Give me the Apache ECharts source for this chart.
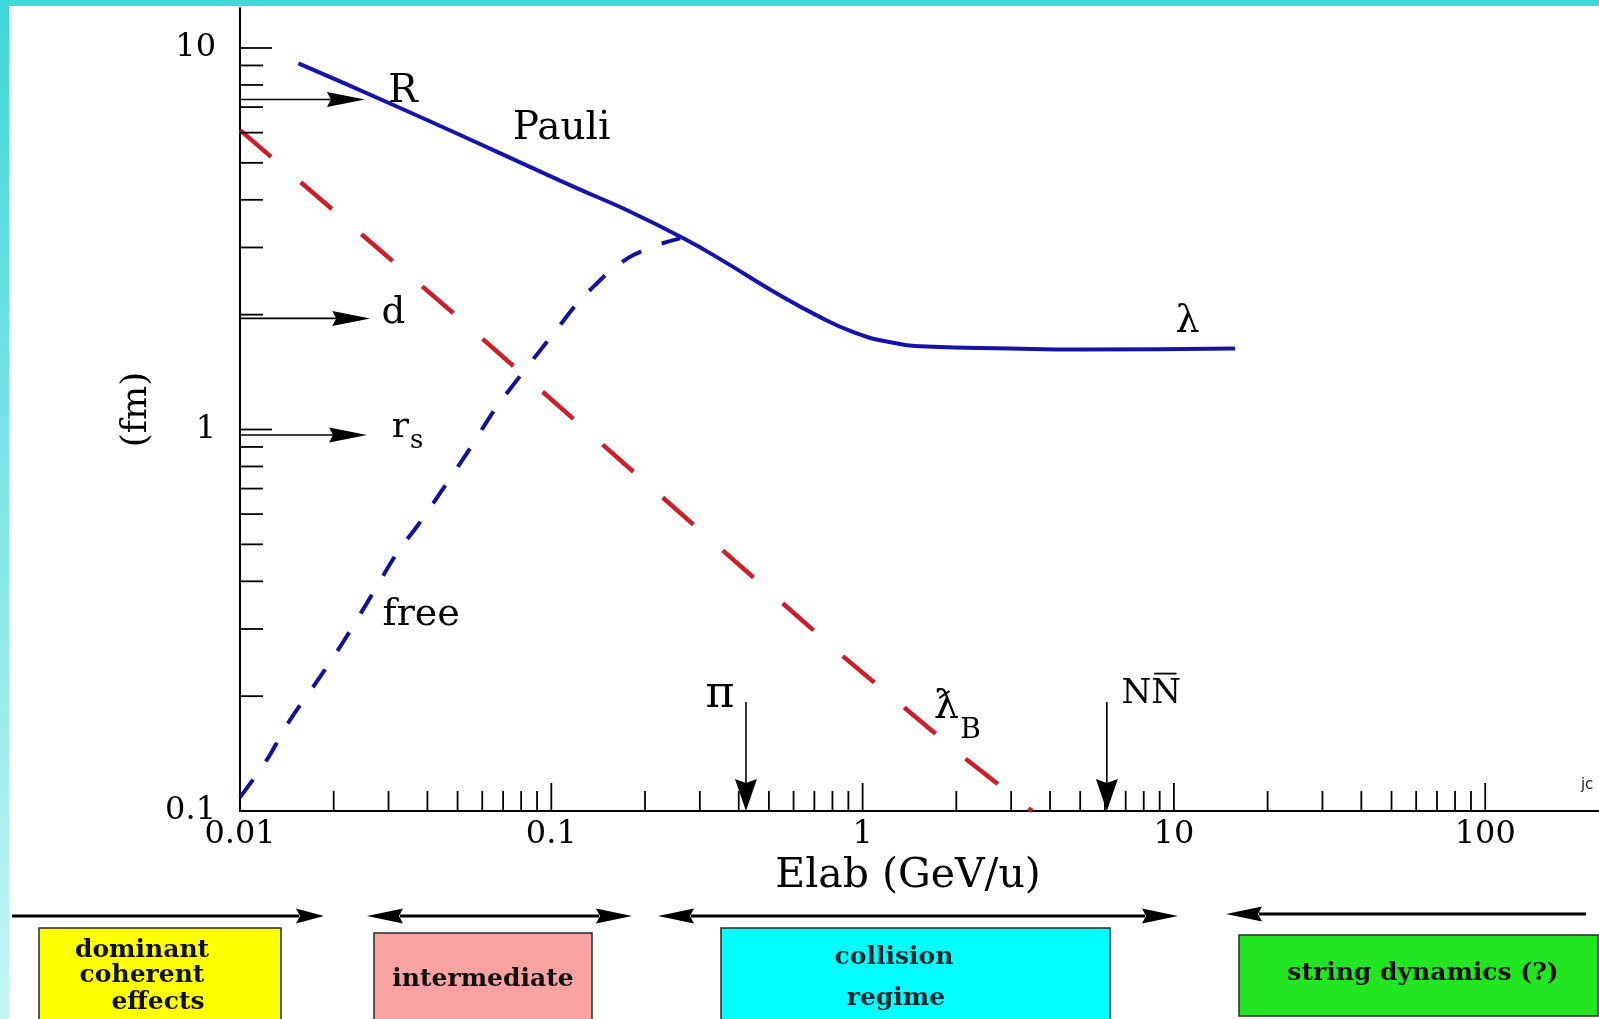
<!DOCTYPE html>
<html>
<head>
<meta charset="utf-8">
<title>Length scales vs. beam energy</title>
<script src="https://cdn.jsdelivr.net/npm/echarts@6/dist/echarts.min.js"></script>
<style>
  html, body { margin: 0; padding: 0; background: #ffffff; }
  #chart { width: 1599px; height: 1019px; }
</style>
</head>
<body>
<div id="chart"></div>
<script>
// ---- Axis ticks (log scales: energy in GeV/u, length in fm) ----
const xTickValues = [0.01, 0.1, 1, 10, 100];
const xTickLabels = ['0.01', '0.1', '1', '10', '100'];
const xMinorTicks = [0.02, 0.03, 0.04, 0.05, 0.06, 0.07, 0.08, 0.09,
                     0.2, 0.3, 0.4, 0.5, 0.6, 0.7, 0.8, 0.9,
                     2, 3, 4, 5, 6, 7, 8, 9,
                     20, 30, 40, 50, 60, 70, 80, 90];
const yTickValues = [0.1, 1, 10];
const yTickLabels = ['0.1', '1', '10'];
const yMinorTicks = [0.2, 0.3, 0.4, 0.5, 0.6, 0.7, 0.8, 0.9,
                     2, 3, 4, 5, 6, 7, 8, 9];

// ---- Mean free path, Pauli blocked (solid) ----
const pauliE = [0.0154, 0.0311, 0.0651, 0.1177, 0.1747, 0.2657, 0.3663, 0.5169,
                0.7303, 0.9343, 1.196, 1.608, 2.978, 4.998, 15.73];
const pauliL = [9.11, 7.09, 5.40, 4.33, 3.76, 3.17, 2.73, 2.30,
                1.97, 1.80, 1.70, 1.65, 1.63, 1.62, 1.63];

// ---- Free mean free path (dashed blue) ----
const freeE = [0.01, 0.01218, 0.01447, 0.01764, 0.02147, 0.02554, 0.03188, 0.03695,
               0.04498, 0.05483, 0.06678, 0.1067, 0.1222, 0.1382, 0.1582, 0.1835,
               0.2183, 0.2593];
const freeL = [0.1086, 0.1359, 0.1731, 0.2182, 0.2777, 0.3501, 0.4735, 0.5559,
               0.7008, 0.892, 1.147, 1.878, 2.161, 2.390, 2.645, 2.865,
               3.044, 3.169];

// ---- de Broglie wavelength (dashed red) ----
const broglieE = [0.01, 0.0484, 0.857, 2.135, 3.50];
const broglieL = [6.09, 2.02, 0.256, 0.1373, 0.1];

// ---- Reference lengths pointed at on the fm axis ----
const lengthNames = ['R', 'd', 'rs'];
const lengthValues = [7.33, 1.955, 0.967];
const lengthArrowTipE = [0.0252, 0.0262, 0.0256];

// ---- Production thresholds pointed at on the energy axis ----
const thresholdNames = ['π', 'NN̄'];
const thresholdE = [0.422, 6.09];
const thresholdArrowTopL = [0.193, 0.193];

// ---- Curve and marker labels ----
const noteText = ['R', 'Pauli', 'd', 'free', 'λ', 'π'];
const noteE = [0.0334, 0.1079, 0.0311, 0.0382, 11.07, 0.348];
const noteL = [7.80, 6.24, 2.056, 0.332, 1.947, 0.205];
// labels with a subscript: [main, subscript], anchored where the two meet
const subNoteMain = ['r', 'ƛ'];
const subNoteSub = ['s', 'B'];
const subNoteE = [0.0349, 2.042];
const subNoteL = [1.030, 0.1896];
// N N-bar threshold label (second N carries an overbar)
const barNoteText = ['NN'];
const barNoteE = [8.45];
const barNoteL = [0.2056];
// small tag at the right edge
const tagText = ['jc'];
const tagE = [203];
const tagL = [0.117];

// ---- Energy regimes below the axis ----
const regimeLines = [['dominant', 'coherent', 'effects'], ['intermediate'],
                     ['collision', 'regime'], ['string dynamics (?)']];

// ---------------------------------------------------------------
const X_MIN = 0.01, X_MAX = 232, Y_MIN = 0.1, Y_MAX = 12.73;
const SERIF = '"DejaVu Serif", "Liberation Serif", serif';
const MID_SHIFT = 3;   // canvas 'middle' sits a little above the glyph centre

function tickLabel(values, labels) {
  return function (v) {
    for (let i = 0; i < values.length; i++) {
      if (Math.abs(v / values[i] - 1) < 1e-6) return labels[i];
    }
    return '';
  };
}

function pairs(a, b) { return a.map((v, i) => [v, b[i]]); }

// short tick strokes drawn inward from an axis
function tickSeries(values, onXAxis, len) {
  return {
    type: 'custom',
    coordinateSystem: 'cartesian2d',
    silent: true,
    clip: false,
    z: 4,
    encode: { x: 0, y: 1 },
    data: values.map(v => onXAxis ? [v, Y_MIN] : [X_MIN, v]),
    renderItem: function (params, api) {
      const p = api.coord([api.value(0), api.value(1)]);
      const shape = onXAxis
        ? { x1: p[0], y1: p[1], x2: p[0], y2: p[1] - len }
        : { x1: p[0], y1: p[1], x2: p[0] + len, y2: p[1] };
      return { type: 'line', shape: shape, style: { stroke: '#000', lineWidth: 1.8 } };
    }
  };
}

const arrowData = lengthValues.map((v, i) => [X_MIN, v, lengthArrowTipE[i], v])
  .concat(thresholdE.map((e, i) => [e, thresholdArrowTopL[i], e, Y_MIN]));

function arrowItem(params, api) {
  const a = api.coord([api.value(0), api.value(1)]);
  const b = api.coord([api.value(2), api.value(3)]);
  const dx = b[0] - a[0], dy = b[1] - a[1];
  const L = Math.sqrt(dx * dx + dy * dy);
  const ux = dx / L, uy = dy / L, nx = -uy, ny = ux;
  const vertical = Math.abs(uy) > Math.abs(ux);
  const headLen = vertical ? 32 : 38;
  const half = vertical ? 11 : 7.5;
  const notch = 4;
  const bx = b[0] - ux * headLen, by = b[1] - uy * headLen;
  return {
    type: 'group',
    children: [
      { type: 'line', shape: { x1: a[0], y1: a[1], x2: bx + ux * notch, y2: by + uy * notch },
        style: { stroke: '#000', lineWidth: 1.6 } },
      { type: 'polygon',
        shape: { points: [[b[0], b[1]], [bx + nx * half, by + ny * half],
                          [bx + ux * notch, by + uy * notch], [bx - nx * half, by - ny * half]] },
        style: { fill: '#000' } }
    ]
  };
}

const noteSize = { 'Pauli': 39, 'R': 39, 'd': 37, 'free': 38, 'λ': 38, 'π': 44 };

function noteItem(params, api) {
  const p = api.coord([api.value(0), api.value(1)]);
  const t = noteText[params.dataIndex];
  return {
    type: 'text', x: p[0], y: p[1] + MID_SHIFT,
    style: { text: t, fill: '#000', fontFamily: SERIF, fontSize: noteSize[t] || 38,
             align: 'center', verticalAlign: 'middle' }
  };
}

function subNoteItem(params, api) {
  const p = api.coord([api.value(0), api.value(1)]);
  const i = params.dataIndex;
  const big = i === 0 ? 36 : 40;
  const small = i === 0 ? 26 : 28;
  const drop = i === 0 ? 13.5 : 23;
  return {
    type: 'group',
    children: [
      { type: 'text', x: p[0], y: p[1] + MID_SHIFT,
        style: { text: subNoteMain[i], fill: '#000', fontFamily: SERIF, fontSize: big,
                 align: 'right', verticalAlign: 'middle' } },
      { type: 'text', x: p[0] + 1, y: p[1] + drop + MID_SHIFT,
        style: { text: subNoteSub[i], fill: '#000', fontFamily: SERIF, fontSize: small,
                 align: 'left', verticalAlign: 'middle' } }
    ]
  };
}

function barNoteItem(params, api) {
  const p = api.coord([api.value(0), api.value(1)]);
  const size = 34, nWidth = 0.838 * size;
  const cy = p[1] + MID_SHIFT;
  return {
    type: 'group',
    children: [
      { type: 'text', x: p[0], y: cy,
        style: { text: barNoteText[params.dataIndex], fill: '#000', fontFamily: SERIF, fontSize: size,
                 align: 'center', verticalAlign: 'middle' } },
      { type: 'line', shape: { x1: p[0] + 3, y1: cy - 21, x2: p[0] + nWidth - 3, y2: cy - 21 },
        style: { stroke: '#000', lineWidth: 1.8 } }
    ]
  };
}

function tagItem(params, api) {
  const p = api.coord([api.value(0), api.value(1)]);
  return {
    type: 'text', x: p[0], y: p[1],
    style: { text: tagText[params.dataIndex], fill: '#222', fontFamily: '"DejaVu Sans", sans-serif',
             fontSize: 15, align: 'left', verticalAlign: 'middle' }
  };
}

// ---- frame and regime strip under the plot ----
function hArrow(x1, x2, y, leftHead, rightHead, headLen) {
  const half = 7.5, out = [];
  const s = leftHead ? x1 + headLen - 3 : x1;
  const e = rightHead ? x2 - headLen + 3 : x2;
  out.push({ type: 'line', shape: { x1: s, y1: y, x2: e, y2: y },
             style: { stroke: '#000', lineWidth: 3 }, silent: true });
  if (leftHead) out.push({ type: 'polygon', silent: true,
    shape: { points: [[x1, y], [x1 + headLen, y - half], [x1 + headLen - 4, y], [x1 + headLen, y + half]] },
    style: { fill: '#000' } });
  if (rightHead) out.push({ type: 'polygon', silent: true,
    shape: { points: [[x2, y], [x2 - headLen, y - half], [x2 - headLen + 4, y], [x2 - headLen, y + half]] },
    style: { fill: '#000' } });
  return out;
}

function box(x, y, w, h, fill) {
  return { type: 'rect', silent: true, shape: { x: x, y: y, width: w, height: h },
           style: { fill: fill, stroke: '#2a2a2a', lineWidth: 1.5 } };
}

function boxText(str, x, y, color) {
  return { type: 'text', silent: true, x: x, y: y, z: 10,
           style: { text: str, fill: color || '#111', fontFamily: SERIF, fontWeight: 'bold',
                    fontSize: 25, align: 'center', verticalAlign: 'middle' } };
}

const graphics = [
  { type: 'rect', silent: true, shape: { x: 0, y: 0, width: 9, height: 1019 },
    style: { fill: new echarts.graphic.LinearGradient(0, 0, 0, 1,
      [{ offset: 0, color: '#3fd7d6' }, { offset: 1, color: '#c6f4f4' }]) } },
  { type: 'rect', silent: true, shape: { x: 0, y: 0, width: 1599, height: 6 },
    style: { fill: '#41d8d6' } },
  box(39, 928, 242, 100, '#ffff00'),
  box(374, 933, 218, 100, '#f8a2a2'),
  box(721, 928, 389, 100, '#00ffff'),
  box(1239, 935, 359, 81, '#22e622'),
  boxText(regimeLines[0][0], 142, 950),
  boxText(regimeLines[0][1], 142, 975),
  boxText(regimeLines[0][2], 158, 1002),
  boxText(regimeLines[1][0], 483, 979),
  boxText(regimeLines[2][0], 894, 957, '#0d2a33'),
  boxText(regimeLines[2][1], 896, 998, '#0d2a33'),
  boxText(regimeLines[3][0], 1423, 973)
].concat(
  hArrow(12, 324, 916, false, true, 28),
  hArrow(367, 632, 916, true, true, 36),
  hArrow(658, 1178, 916, true, true, 36),
  hArrow(1226, 1586, 914, true, false, 36)
);

const chart = echarts.init(document.getElementById('chart'), null, { renderer: 'canvas' });

chart.setOption({
  animation: false,
  backgroundColor: '#ffffff',
  grid: { left: 240, right: 0, top: 8, bottom: 208, containLabel: false, outerBoundsMode: 'none' },
  xAxis: {
    type: 'log', logBase: 10, min: X_MIN, max: X_MAX,
    axisLine: { show: true, onZero: false, lineStyle: { color: '#000', width: 2 } },
    axisTick: { show: false },
    splitLine: { show: false },
    axisLabel: { show: true, color: '#000', fontFamily: SERIF, fontSize: 32, margin: 8,
                 showMaxLabel: false, formatter: tickLabel(xTickValues, xTickLabels) },
    name: 'Elab (GeV/u)', nameLocation: 'middle', nameGap: 22,
    nameTextStyle: { color: '#000', fontFamily: SERIF, fontSize: 41, padding: [0, 23, 0, 0] }
  },
  yAxis: {
    type: 'log', logBase: 10, min: Y_MIN, max: Y_MAX,
    axisLine: { show: true, onZero: false, lineStyle: { color: '#000', width: 2 } },
    axisTick: { show: false },
    splitLine: { show: false },
    axisLabel: { show: true, color: '#000', fontFamily: SERIF, fontSize: 32, margin: 24,
                 showMaxLabel: false, formatter: tickLabel(yTickValues, yTickLabels) },
    name: '(fm)', nameLocation: 'middle', nameGap: 80, nameRotate: 90,
    nameTextStyle: { color: '#000', fontFamily: SERIF, fontSize: 36 }
  },
  graphic: graphics,
  series: [
    { name: 'Pauli', type: 'line', data: pairs(pauliE, pauliL), symbol: 'none', smooth: 0.5,
      lineStyle: { color: '#1414aa', width: 4 }, z: 3, silent: true },
    { name: 'free', type: 'line', data: pairs(freeE, freeL), symbol: 'none', smooth: 0.3,
      lineStyle: { color: '#11119e', width: 4, type: [22, 22], cap: 'butt' }, z: 3, silent: true },
    { name: 'ƛB', type: 'line', data: pairs(broglieE, broglieL), symbol: 'none',
      lineStyle: { color: '#cc1f2a', width: 4.5, type: [41, 39], cap: 'butt' }, z: 2, silent: true },
    tickSeries(xTickValues.slice(1), true, 28),
    tickSeries(xMinorTicks, true, 20),
    tickSeries(yTickValues.slice(1), false, 32),
    tickSeries(yMinorTicks, false, 23),
    { name: 'pointers', type: 'custom', coordinateSystem: 'cartesian2d', clip: false, silent: true,
      encode: { x: [0, 2], y: [1, 3] }, data: arrowData, renderItem: arrowItem, z: 5 },
    { name: 'notes', type: 'custom', coordinateSystem: 'cartesian2d', clip: false, silent: true,
      encode: { x: 0, y: 1 }, data: pairs(noteE, noteL), renderItem: noteItem, z: 6 },
    { name: 'subnotes', type: 'custom', coordinateSystem: 'cartesian2d', clip: false, silent: true,
      encode: { x: 0, y: 1 }, data: pairs(subNoteE, subNoteL), renderItem: subNoteItem, z: 6 },
    { name: 'barnotes', type: 'custom', coordinateSystem: 'cartesian2d', clip: false, silent: true,
      encode: { x: 0, y: 1 }, data: pairs(barNoteE, barNoteL), renderItem: barNoteItem, z: 6 },
    { name: 'tag', type: 'custom', coordinateSystem: 'cartesian2d', clip: false, silent: true,
      encode: { x: 0, y: 1 }, data: pairs(tagE, tagL), renderItem: tagItem, z: 6 }
  ]
});
</script>
</body>
</html>
